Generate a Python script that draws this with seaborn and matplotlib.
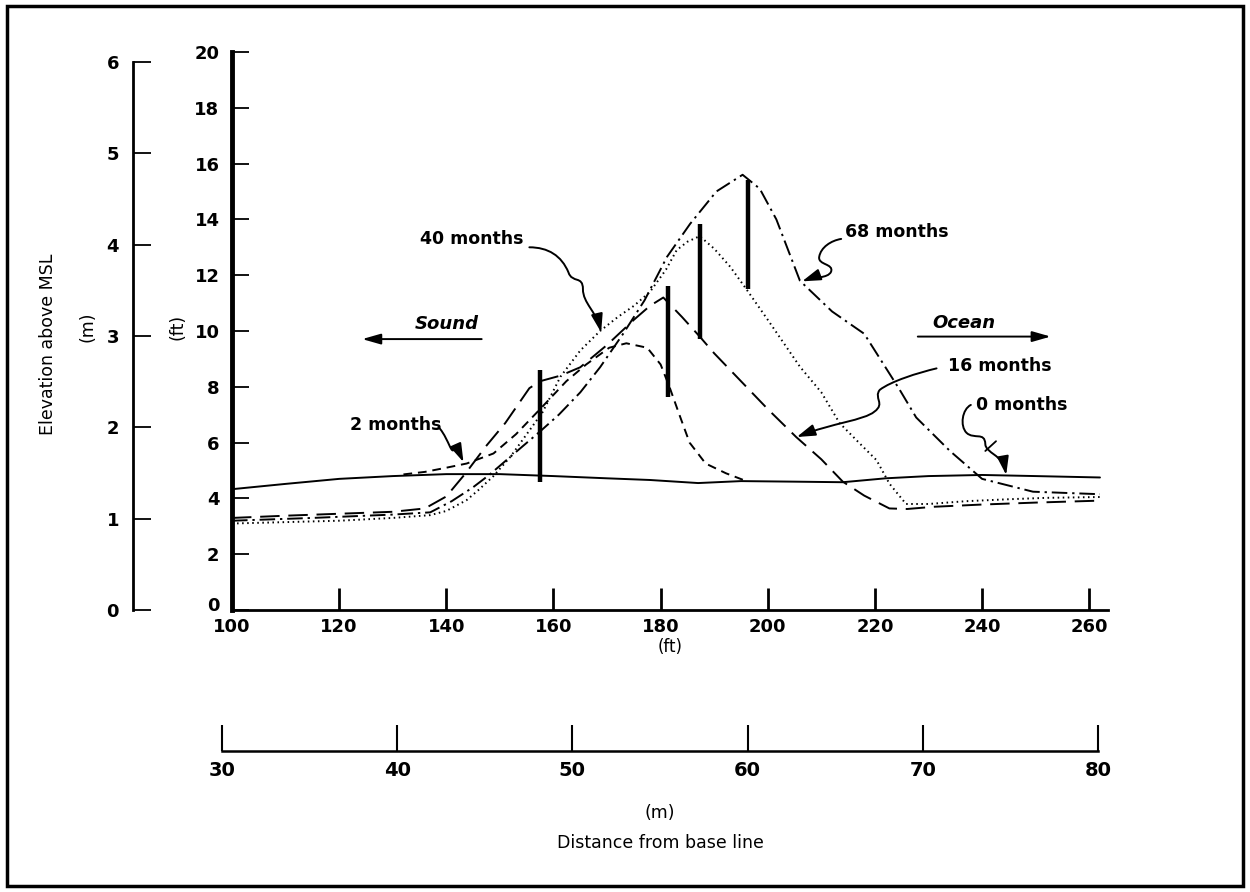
import matplotlib
matplotlib.use("Agg")
import matplotlib.pyplot as plt
from matplotlib.patches import FancyArrowPatch, Rectangle
from matplotlib.path import Path
from matplotlib.transforms import ScaledTranslation
import pandas as pd
import seaborn as sns

sns.set_theme(style="white")
plt.rcParams["font.family"] = ["DejaVu Sans"]
plt.rcParams["text.color"] = "black"
plt.rcParams["axes.labelcolor"] = "black"

# beach profiles, distance (ft) / elevation (ft)
dist_0 = [100, 110, 120, 130, 140, 150, 160, 170, 178, 187, 195, 205, 214, 222, 230, 240, 250, 262]
elev_0 = [4.33, 4.52, 4.7, 4.8, 4.87, 4.87, 4.8, 4.72, 4.66, 4.55, 4.62, 4.6, 4.58, 4.72, 4.8, 4.84, 4.8, 4.75]

dist_2 = [132, 136, 140, 143.8, 148.8, 153, 157.5, 162.4, 166.1, 170.4, 173.6, 177.5, 180, 181.7, 183.5, 185.4, 188.4, 192.2, 196]
elev_2 = [4.86, 4.95, 5.1, 5.25, 5.61, 6.3, 7.2, 8.2, 8.8, 9.4, 9.56, 9.4, 8.8, 7.97, 7.0, 6.0, 5.25, 4.9, 4.62]

dist_16 = [100, 110, 120, 130, 136, 140, 143.6, 147.4, 151, 155.5, 157.5, 161.3, 165, 170, 175, 178, 180.5, 184,
           187.3, 190, 195, 200, 205.3, 210, 214, 218, 222.7, 226, 231, 240, 250, 262]
elev_16 = [3.3, 3.38, 3.45, 3.52, 3.64, 4.07, 4.9, 5.87, 6.7, 7.95, 8.2, 8.4, 8.7, 9.5, 10.4, 10.9, 11.2, 10.5,
           9.8, 9.2, 8.2, 7.2, 6.2, 5.4, 4.6, 4.1, 3.64, 3.62, 3.7, 3.78, 3.85, 3.92]

dist_40 = [100, 110, 120, 130, 137, 140, 143.8, 146, 148.8, 152, 155, 158, 161.3, 165, 168.7, 172, 175, 178, 181,
           183, 185, 187.3, 190, 193, 196, 200, 206, 210, 213.4, 217, 220.3, 222.7, 225.8, 230, 237, 245, 252, 262]
elev_40 = [3.1, 3.15, 3.2, 3.3, 3.4, 3.55, 3.94, 4.3, 4.8, 5.5, 6.3, 7.1, 8.36, 9.3, 10.0, 10.5, 10.9, 11.4, 12.2,
           12.9, 13.2, 13.4, 12.95, 12.3, 11.5, 10.4, 8.72, 7.8, 6.7, 6.0, 5.37, 4.53, 3.8, 3.8, 3.9, 3.97, 4.02, 4.05]

dist_68 = [100, 115, 130, 137, 141, 145, 148, 152, 157.5, 161, 165, 168.7, 173, 177, 181.2, 185.5, 190.4, 195.3,
           198.5, 201.6, 206, 212, 218, 221.5, 224.6, 227.7, 234, 240, 249.5, 262]
elev_68 = [3.2, 3.3, 3.42, 3.5, 3.9, 4.4, 4.84, 5.5, 6.4, 7.0, 7.8, 8.7, 9.9, 11.1, 12.66, 13.84, 15.0, 15.6,
           15.1, 14.0, 11.8, 10.7, 9.9, 8.84, 7.9, 6.9, 5.7, 4.7, 4.24, 4.15]

# survey rods (thick verticals)
rod_x = [157.5, 181.4, 187.3, 196.3]
rod_low = [4.6, 7.65, 9.7, 11.5]
rod_high = [8.6, 11.6, 13.85, 15.4]

ft_ticks = list(range(100, 261, 20))
elev_ft_ticks = list(range(0, 21, 2))
elev_m_ticks = list(range(0, 7))
dist_m_ticks = list(range(30, 81, 10))

profiles = [("0 months", dist_0, elev_0), ("2 months", dist_2, elev_2),
            ("16 months", dist_16, elev_16), ("40 months", dist_40, elev_40),
            ("68 months", dist_68, elev_68)]
df = pd.concat([pd.DataFrame({"dist": d, "elev": e, "months": m}) for m, d, e in profiles],
               ignore_index=True)

line_dashes = {"0 months": "", "2 months": (4.5, 3), "16 months": (10, 4.5),
               "40 months": (0.8, 1.8), "68 months": (8, 2.5, 1.2, 2.5)}

W, H = 1250, 892
fig = plt.figure(figsize=(W / 100, H / 100), dpi=100)

# main axes (ft)
ax = fig.add_axes([232 / W, (H - 610) / H, (1108 - 232) / W, (610 - 52) / H])
ax.patch.set_alpha(0)
sns.lineplot(data=df, x="dist", y="elev", hue="months", style="months",
             palette={m: "black" for m in line_dashes}, dashes=line_dashes,
             sort=False, estimator=None, legend=False, linewidth=1.4, ax=ax)
ax.vlines(rod_x, rod_low, rod_high, colors="black", linewidth=3.2)

ax.set_xlim(100, 263.5)
ax.set_ylim(0, 20)
ax.set_xticks(ft_ticks)
ax.set_yticks(elev_ft_ticks)
for s in ["top", "right"]:
    ax.spines[s].set_visible(False)
ax.spines["left"].set_linewidth(3.5)
ax.spines["bottom"].set_linewidth(2)
ax.spines["left"].set_color("black")
ax.spines["bottom"].set_color("black")
ax.tick_params(axis="y", left=True, direction="in", length=12, width=1.3, pad=9, labelsize=13, colors="black")
ax.tick_params(axis="x", bottom=True, direction="in", length=16, width=2, pad=6, labelsize=13, colors="black")
for lbl in ax.get_xticklabels() + ax.get_yticklabels():
    lbl.set_fontweight("bold")
# lift the "0" a little so it sits above the "100"
zero_lbl = ax.get_yticklabels()[0]
zero_lbl.set_transform(zero_lbl.get_transform() + ScaledTranslation(0, 6 / 100, fig.dpi_scale_trans))
ax.set_xlabel("(ft)", fontsize=12, labelpad=1)
ax.set_ylabel("")

# left metre scale
axm = fig.add_axes([133 / W, (H - 610) / H, 0.001, (610 - 62) / H])
axm.patch.set_alpha(0)
for s in ["top", "right", "bottom"]:
    axm.spines[s].set_visible(False)
axm.spines["left"].set_linewidth(2)
axm.spines["left"].set_color("black")
axm.set_ylim(0, 6)
axm.set_yticks(elev_m_ticks)
axm.set_xticks([])
axm.tick_params(axis="y", left=True, direction="in", length=13, width=1.3, pad=10, labelsize=13, colors="black")
for lbl in axm.get_yticklabels():
    lbl.set_fontweight("bold")

# bottom metre scale
axb = fig.add_axes([222 / W, (H - 751) / H, (1098 - 222) / W, 0.001])
axb.patch.set_alpha(0)
for s in ["top", "right", "left"]:
    axb.spines[s].set_visible(False)
axb.spines["bottom"].set_linewidth(1.8)
axb.spines["bottom"].set_color("black")
axb.set_xlim(30, 80)
axb.set_xticks(dist_m_ticks)
axb.set_yticks([])
axb.tick_params(axis="x", bottom=True, direction="in", length=19, width=1.5, pad=7, labelsize=14, colors="black")
for lbl in axb.get_xticklabels():
    lbl.set_fontweight("bold")

# axis titles
fig.text(48 / W, 1 - 344 / H, "Elevation above MSL", rotation=90, ha="center", va="center", fontsize=12.5)
fig.text(87 / W, 1 - 327 / H, "(m)", rotation=90, ha="center", va="center", fontsize=12.5)
fig.text(177 / W, 1 - 327 / H, "(ft)", rotation=90, ha="center", va="center", fontsize=12.5)
fig.text(660 / W, 1 - 813 / H, "(m)", ha="center", va="center", fontsize=12.5)
fig.text(660 / W, 1 - 843 / H, "Distance from base line", ha="center", va="center", fontsize=12.5)


def wavy_arrow(points):
    codes = [Path.MOVETO] + [Path.CURVE4] * (len(points) - 1)
    arr = FancyArrowPatch(path=Path(points, codes), arrowstyle="-|>,head_length=0.7,head_width=0.22",
                          mutation_scale=16, lw=1.4, color="black", transform=ax.transData)
    ax.add_patch(arr)


# profile labels
lab = dict(fontsize=12.5, fontweight="bold", va="center")
ax.text(154.5, 13.3, "40 months", ha="right", **lab)
wavy_arrow([(155.5, 13.0), (159, 13.0), (161.5, 12.7), (162.8, 12.1),
            (163.5, 11.7), (165.5, 12.0), (165.5, 11.5),
            (165.5, 11.0), (168, 10.7), (168.9, 9.95)])
ax.text(214.4, 13.56, "68 months", ha="left", **lab)
wavy_arrow([(213.7, 13.3), (211.8, 13.24), (209.9, 13.0), (209.6, 12.66),
            (209.3, 12.36), (212.4, 12.42), (211.8, 12.12),
            (211.2, 11.88), (208.6, 11.94), (206.4, 11.78)])
ax.text(233.6, 8.75, "16 months", ha="left", **lab)
wavy_arrow([(231.5, 8.66), (228, 8.5), (223, 8.2), (220.9, 7.89),
            (219.7, 7.6), (222, 7.4), (219.9, 7.11),
            (218, 6.8), (212, 6.7), (205.4, 6.2)])
ax.text(238.9, 7.35, "0 months", ha="left", **lab)
wavy_arrow([(237.9, 7.35), (236.3, 7.2), (235.8, 6.6), (237.1, 6.35),
            (238.5, 6.1), (240.5, 6.4), (240.6, 5.95),
            (240.7, 5.6), (243.8, 5.6), (244.5, 4.84)])
ax.plot([240.6, 242.6], [5.7, 6.05], color="black", lw=1.3)
ax.text(122, 6.63, "2 months", ha="left", **lab)
wavy_arrow([(138.8, 6.5), (140.5, 6.1), (141.0, 5.5), (141.5, 5.8),
            (142, 6.0), (142.5, 5.6), (143.2, 5.3)])

# direction markers
ax.text(134.1, 10.25, "Sound", ha="left", va="center", fontsize=13, fontstyle="italic", fontweight="bold")
ax.annotate("", xy=(124.3, 9.71), xytext=(146.6, 9.71),
            arrowprops=dict(arrowstyle="-|>,head_length=0.7,head_width=0.2", lw=1.4, color="black",
                            mutation_scale=16, shrinkA=0, shrinkB=0))
ax.text(230.8, 10.3, "Ocean", ha="left", va="center", fontsize=13, fontstyle="italic", fontweight="bold")
ax.annotate("", xy=(252.8, 9.8), xytext=(228, 9.8),
            arrowprops=dict(arrowstyle="-|>,head_length=0.7,head_width=0.2", lw=1.4, color="black",
                            mutation_scale=16, shrinkA=0, shrinkB=0))

# frame around the figure
fig.patches.append(Rectangle((7 / W, 6 / H), (1243 - 7) / W, (886 - 6) / H, transform=fig.transFigure,
                             fill=False, edgecolor="black", linewidth=2.5))

fig.savefig("out.png", dpi=100)
